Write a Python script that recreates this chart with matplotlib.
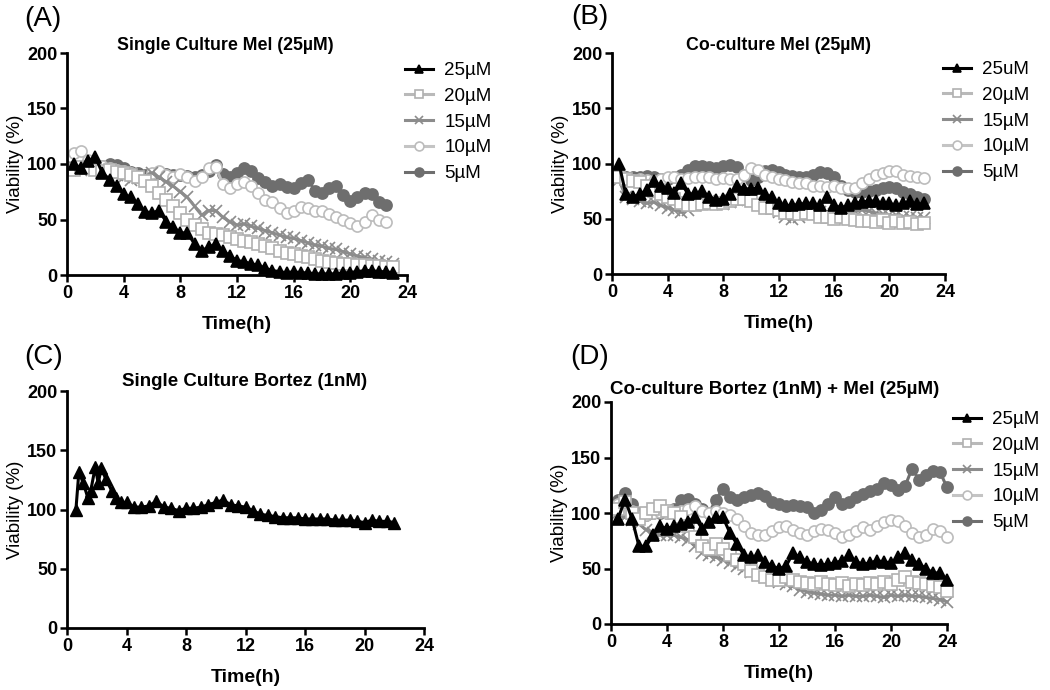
import matplotlib
matplotlib.use("Agg")
import matplotlib.pyplot as plt

plt.rcParams['font.family'] = ['Liberation Sans', 'DejaVu Sans']

# ---- data ----
conc_labels = ['25µM', '20µM', '15µM', '10µM', '5µM']
conc_labels_b = ['25uM', '20µM', '15µM', '10µM', '5µM']

t_a = [0.5, 1.0, 1.5, 2.0, 2.5, 3.0, 3.5, 4.0, 4.5, 5.0, 5.5, 6.0, 6.5, 7.0, 7.5, 8.0,
       8.5, 9.0, 9.5, 10.0, 10.5, 11.0, 11.5, 12.0, 12.5, 13.0, 13.5, 14.0, 14.5, 15.0,
       15.5, 16.0, 16.5, 17.0, 17.5, 18.0, 18.5, 19.0, 19.5, 20.0, 20.5, 21.0, 21.5, 22.0,
       22.5, 23.0]
a_25 = [100, 96, 103, 106, 92, 86, 80, 73, 70, 64, 57, 56, 58, 48, 43, 38, 38, 28, 22, 25,
        28, 22, 17, 13, 12, 10, 9, 6, 4, 3, 2, 3, 2, 2, 1, 1, 1, 1, 2, 2, 3, 4, 4, 3, 3, 2]
a_20 = [95, 97, 96, 95, 94, 95, 93, 92, 90, 88, 85, 80, 74, 68, 62, 56, 50, 45, 41, 38,
        37, 36, 34, 32, 31, 30, 28, 26, 24, 22, 20, 19, 17, 16, 14, 13, 12, 11, 10, 10,
        9, 9, 8, 8, 7, 7]
a_15 = [97, 95, 96, 96, 95, 93, 90, 88, 86, 87, 88, 92, 88, 84, 80, 75, 70, 62, 54, 58,
        58, 52, 48, 45, 46, 44, 42, 40, 38, 36, 34, 33, 31, 29, 27, 26, 24, 23, 21, 19,
        17, 16, 14, 13, 12, 10]
a_10 = [110, 112, 104, 100, 98, 96, 95, 94, 92, 88, 86, 92, 94, 90, 88, 91, 88, 85, 88, 96,
        97, 82, 78, 82, 84, 80, 74, 68, 66, 60, 56, 58, 61, 60, 58, 58, 55, 52, 50, 47,
        44, 48, 54, 50, 48]
a_5 = [98, 97, 98, 97, 98, 100, 99, 96, 93, 92, 90, 91, 92, 91, 90, 90, 89, 88, 90, 94,
       99, 91, 88, 92, 96, 94, 87, 84, 80, 82, 79, 78, 83, 86, 76, 74, 78, 80, 72, 67,
       70, 74, 73, 66, 63]

t_b = [0.5, 1.0, 1.5, 2.0, 2.5, 3.0, 3.5, 4.0, 4.5, 5.0, 5.5, 6.0, 6.5, 7.0, 7.5, 8.0,
       8.5, 9.0, 9.5, 10.0, 10.5, 11.0, 11.5, 12.0, 12.5, 13.0, 13.5, 14.0, 14.5, 15.0,
       15.5, 16.0, 16.5, 17.0, 17.5, 18.0, 18.5, 19.0, 19.5, 20.0, 20.5, 21.0, 21.5, 22.0,
       22.5]
b_25 = [100, 72, 70, 72, 76, 84, 80, 78, 73, 82, 72, 73, 75, 70, 67, 68, 72, 80, 77, 77,
        78, 72, 70, 64, 62, 62, 63, 64, 64, 62, 70, 62, 60, 62, 64, 65, 66, 66, 64, 64,
        62, 64, 66, 63, 64]
b_20 = [88, 86, 84, 83, 80, 75, 72, 70, 68, 64, 62, 62, 63, 64, 63, 64, 66, 68, 68, 66,
        62, 60, 60, 58, 55, 55, 54, 55, 54, 52, 52, 50, 52, 50, 49, 48, 48, 47, 49, 46,
        48, 46, 47, 45, 46]
b_15 = [85, 70, 68, 66, 64, 65, 62, 60, 58, 56, 58, 62, 64, 66, 64, 63, 65, 67, 68, 68,
        66, 64, 60, 56, 52, 50, 52, 55, 56, 56, 55, 54, 53, 55, 57, 58, 57, 55, 54, 53,
        53, 52, 52, 51, 51]
b_10 = [90, 86, 85, 86, 85, 84, 86, 88, 88, 86, 87, 88, 88, 88, 86, 87, 86, 86, 90, 96,
        94, 90, 88, 86, 85, 83, 82, 82, 80, 80, 79, 80, 78, 78, 78, 82, 86, 90, 91, 93,
        93, 90, 89, 88, 87]
b_5 = [90, 88, 88, 88, 89, 88, 86, 86, 88, 90, 94, 98, 98, 97, 96, 98, 99, 97, 90, 85,
       88, 93, 94, 92, 90, 89, 88, 88, 90, 92, 91, 88, 80, 76, 74, 74, 75, 76, 78, 79,
       78, 74, 72, 70, 68]

t_c = [0.6, 0.8, 1.1, 1.4, 1.6, 1.9, 2.1, 2.3, 2.6, 3.0, 3.3, 3.6, 4.0, 4.5, 5.0, 5.5,
       6.0, 6.5, 7.0, 7.5, 8.0, 8.5, 9.0, 9.5, 10.0, 10.5, 11.0, 11.5, 12.0, 12.5, 13.0,
       13.5, 14.0, 14.5, 15.0, 15.5, 16.0, 16.5, 17.0, 17.5, 18.0, 18.5, 19.0, 19.5, 20.0,
       20.5, 21.0, 21.5, 22.0]
c_bortez = [100, 132, 122, 110, 116, 136, 122, 135, 126, 116, 110, 106, 106, 102, 102, 103,
            107, 102, 101, 99, 101, 101, 102, 104, 106, 108, 104, 103, 102, 99, 96,
            95, 94, 93, 93, 93, 92, 92, 92, 92, 91, 91, 91, 90, 89,
            91, 90, 90, 89]

t_d = [0.5, 1.0, 1.5, 2.0, 2.5, 3.0, 3.5, 4.0, 4.5, 5.0, 5.5, 6.0, 6.5, 7.0, 7.5, 8.0,
       8.5, 9.0, 9.5, 10.0, 10.5, 11.0, 11.5, 12.0, 12.5, 13.0, 13.5, 14.0, 14.5, 15.0,
       15.5, 16.0, 16.5, 17.0, 17.5, 18.0, 18.5, 19.0, 19.5, 20.0, 20.5, 21.0, 21.5, 22.0,
       22.5, 23.0, 23.5, 24.0]
d_25 = [95, 112, 95, 70, 70, 80, 88, 86, 88, 90, 92, 96, 86, 92, 96, 96, 82, 72, 62, 60,
        62, 56, 52, 50, 52, 64, 60, 56, 54, 53, 54, 55, 57, 62, 56, 54, 55, 57, 56, 55,
        60, 64, 58, 54, 50, 46, 46, 40]
d_20 = [104, 110, 100, 95, 100, 104, 106, 102, 100, 96, 88, 78, 70, 68, 72, 68, 62, 58, 54, 48,
        44, 42, 40, 40, 42, 40, 38, 37, 36, 38, 36, 35, 37, 34, 36, 35, 37, 36, 38, 36,
        40, 42, 38, 37, 36, 34, 33, 30]
d_15 = [100, 96, 94, 90, 85, 82, 80, 80, 80, 78, 76, 70, 64, 62, 60, 58, 55, 52, 50, 47,
        44, 42, 40, 38, 36, 34, 31, 29, 28, 27, 26, 26, 25, 26, 25, 25, 26, 25, 24, 26,
        25, 26, 25, 25, 24, 23, 22, 20]
d_10 = [108, 110, 102, 96, 98, 100, 101, 100, 100, 102, 104, 106, 102, 100, 102, 100, 98, 95, 88, 82,
        80, 80, 84, 87, 88, 85, 82, 80, 84, 86, 85, 82, 78, 80, 84, 87, 85, 88, 92, 94,
        93, 88, 82, 78, 80, 86, 84, 78]
d_5 = [112, 118, 108, 100, 98, 100, 100, 100, 104, 112, 113, 108, 104, 100, 112, 122, 114, 112, 114, 116,
       118, 115, 110, 108, 106, 107, 106, 105, 100, 103, 108, 114, 108, 110, 114, 117, 120, 122, 127, 125,
       121, 124, 140, 130, 134, 138, 137, 123]

x_ticks = [0, 4, 8, 12, 16, 20, 24]
y_ticks = [0, 50, 100, 150, 200]

# ---- styles ----
styles = [
    dict(color='black', marker='^', mfc='black', mec='black'),
    dict(color='#b9b9b9', marker='s', mfc='white', mec='#b0b0b0'),
    dict(color='#8c8c8c', marker='x', mec='#8c8c8c'),
    dict(color='#c4c4c4', marker='o', mfc='white', mec='#bcbcbc'),
    dict(color='#6e6e6e', marker='o', mfc='#6e6e6e', mec='#6e6e6e'),
]


def px(x, y):
    return x / 1050, 1 - y / 690


def setup(ax):
    ax.set_xlim(0, 24)
    ax.set_ylim(0, 200)
    ax.set_xticks(x_ticks)
    ax.set_yticks(y_ticks)
    for s in ['top', 'right']:
        ax.spines[s].set_visible(False)
    for s in ['left', 'bottom']:
        ax.spines[s].set_linewidth(2)
    ax.tick_params(direction='out', length=5, width=1.8, labelsize=13, pad=2)
    for lab in ax.get_xticklabels() + ax.get_yticklabels():
        lab.set_fontweight('bold')
    ax.set_ylabel('Viability (%)', fontsize=13.5, labelpad=2)
    ax.set_xlabel('Time(h)', fontsize=14, fontweight='bold', labelpad=10)


def draw(ax, times, series, labels, leg_xy):
    handles = []
    # last concentration goes underneath, 25 on top
    for i in range(len(series) - 1, -1, -1):
        h, = ax.plot(times[i], series[i], lw=2.2, ms=8, mew=1.2, clip_on=False,
                     label=labels[i], **styles[i])
        handles.append(h)
    handles = handles[::-1]
    ax.legend(handles=handles, loc='upper left', bbox_to_anchor=px(*leg_xy),
              bbox_transform=fig.transFigure, frameon=False, fontsize=13.5,
              handlelength=1.5, handletextpad=0.6, labelspacing=0.46,
              borderaxespad=0, borderpad=0, markerscale=0.8)


fig = plt.figure(figsize=(10.5, 6.9), dpi=100)

axA = fig.add_axes([67 / 1050, 1 - 275 / 690, 340 / 1050, 222 / 690])
axB = fig.add_axes([612 / 1050, 1 - 274 / 690, 333 / 1050, 221 / 690])
axC = fig.add_axes([67 / 1050, 1 - 628 / 690, 357 / 1050, 237 / 690])
axD = fig.add_axes([611 / 1050, 1 - 624 / 690, 336 / 1050, 222 / 690])

for ax in [axA, axB, axC, axD]:
    setup(ax)

draw(axA, [t_a, t_a, t_a, t_a[:45], t_a[:45]], [a_25, a_20, a_15, a_10, a_5], conc_labels, (405, 62))
draw(axB, [t_b] * 5, [b_25, b_20, b_15, b_10, b_5], conc_labels_b, (943, 61))
axC.plot(t_c, c_bortez, lw=2.2, ms=8, clip_on=False, **styles[0])
draw(axD, [t_d] * 5, [d_25, d_20, d_15, d_10, d_5], conc_labels, (953, 411))

# titles and panel letters
fig.text(*px(225, 45), 'Single Culture Mel (25µM)', ha='center', va='center', fontsize=12.8, fontweight='bold')
fig.text(*px(778, 45), 'Co-culture Mel (25µM)', ha='center', va='center', fontsize=12.8, fontweight='bold')
fig.text(*px(245, 381), 'Single Culture Bortez (1nM)', ha='center', va='center', fontsize=13.5, fontweight='bold')
fig.text(*px(775, 389), 'Co-culture Bortez (1nM) + Mel (25µM)', ha='center', va='center', fontsize=13.5, fontweight='bold')

fig.text(*px(43, 19), '(A)', ha='center', va='center', fontsize=20)
fig.text(*px(590, 17), '(B)', ha='center', va='center', fontsize=20)
fig.text(*px(44, 357), '(C)', ha='center', va='center', fontsize=20)
fig.text(*px(590, 357), '(D)', ha='center', va='center', fontsize=20)

fig.savefig('out.png', dpi=100)
